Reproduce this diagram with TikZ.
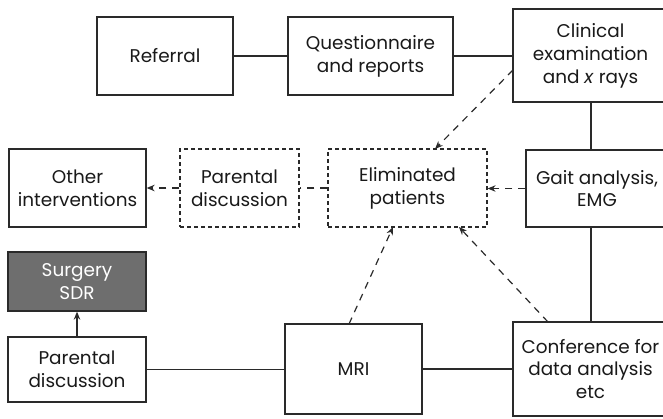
\documentclass[tikz,border=0pt]{standalone}
\usepackage{fontspec}
\setmainfont{Poppins}
\usetikzlibrary{arrows.meta}
\definecolor{boxgray}{HTML}{6E6E6E}
\definecolor{linegray}{HTML}{2A2A2A}
\tikzset{
  box/.style={draw=linegray, line width=1.3bp, align=center, inner sep=0pt,
    font=\fontsize{18.5}{23}\selectfont, text=black!90},
  dbox/.style={box, line width=1.2bp, dash pattern=on 4bp off 3bp},
  gbox/.style={box, fill=boxgray, text=white},
  conn/.style={draw=linegray, line width=1.3bp},
  dconn/.style={conn, line width=1.2bp, dash pattern=on 7bp off 6bp, -{Stealth[length=8bp,width=6.5bp]}},
  dline/.style={conn, line width=1.2bp, dash pattern=on 7bp off 6bp},
  sarrow/.style={conn, -{Stealth[length=8bp,width=6.5bp]}},
}
\begin{document}
\begin{tikzpicture}[x=1bp,y=-1bp]
\useasboundingbox (0,0) rectangle (663,418);
\clip (0,0) rectangle (663,418);
\node[box, minimum width=136bp, minimum height=78bp] (referral) at (165,56) {Referral};
\node[box, minimum width=165bp, minimum height=78bp] (quest) at (370.5,56) {Questionnaire\\and reports};
\node[box, minimum width=155bp, minimum height=93bp] (clinical) at (590.5,55.5) {Clinical\\examination\\and \textit{x} rays};
\node[box, minimum width=142bp, minimum height=77bp] (gait) at (597,188.5) {Gait analysis,\\EMG};
\node[box, minimum width=155bp, minimum height=94bp] (conf) at (590.5,369) {Conference for\\data analysis\\etc};
\node[dbox, minimum width=159bp, minimum height=78bp] (elim) at (407.5,188) {Eliminated\\patients};
\node[dbox, minimum width=119bp, minimum height=78bp] (par1) at (239.5,188) {Parental\\discussion};
\node[box, minimum width=137bp, minimum height=78bp] (other) at (77.5,188) {Other\\interventions};
\node[gbox, minimum width=138bp, minimum height=59bp] (surg) at (77,281.5) {Surgery\\SDR};
\node[box, minimum width=138bp, minimum height=65bp] (par2) at (77,369.5) {Parental\\discussion};
\node[box, minimum width=137bp, minimum height=90bp] (mri) at (353.5,369) {MRI};
\coordinate (vx) at (591,0);
\coordinate (c1) at (513,70);
\coordinate (e1) at (435,149);
\coordinate (e2) at (393,227);
\coordinate (e3) at (459,227);
\coordinate (m1) at (349,324);
\coordinate (k1) at (548,322);
\draw[conn] (referral.east) -- (quest.west);
\draw[conn] (quest.east) -- (clinical.west |- quest.east);
\draw[conn] (clinical.south -| vx) -- (gait.north -| vx);
\draw[conn] (gait.south -| vx) -- (conf.north -| vx);
\draw[conn] (par2.east) -- (mri.west |- par2.east);
\draw[conn] (mri.east) -- (conf.west |- mri.east);
\draw[sarrow] (par2.north) -- (surg.south);
\draw[dconn] (gait.west) -- (elim.east |- gait.west);
\draw[dline] (elim.west) -- (par1.east);
\draw[dconn] (par1.west) -- (other.east);
\draw[dconn] (c1) -- (e1);
\draw[dconn] (m1) -- (e2);
\draw[dconn] (k1) -- (e3);
\end{tikzpicture}
\end{document}
